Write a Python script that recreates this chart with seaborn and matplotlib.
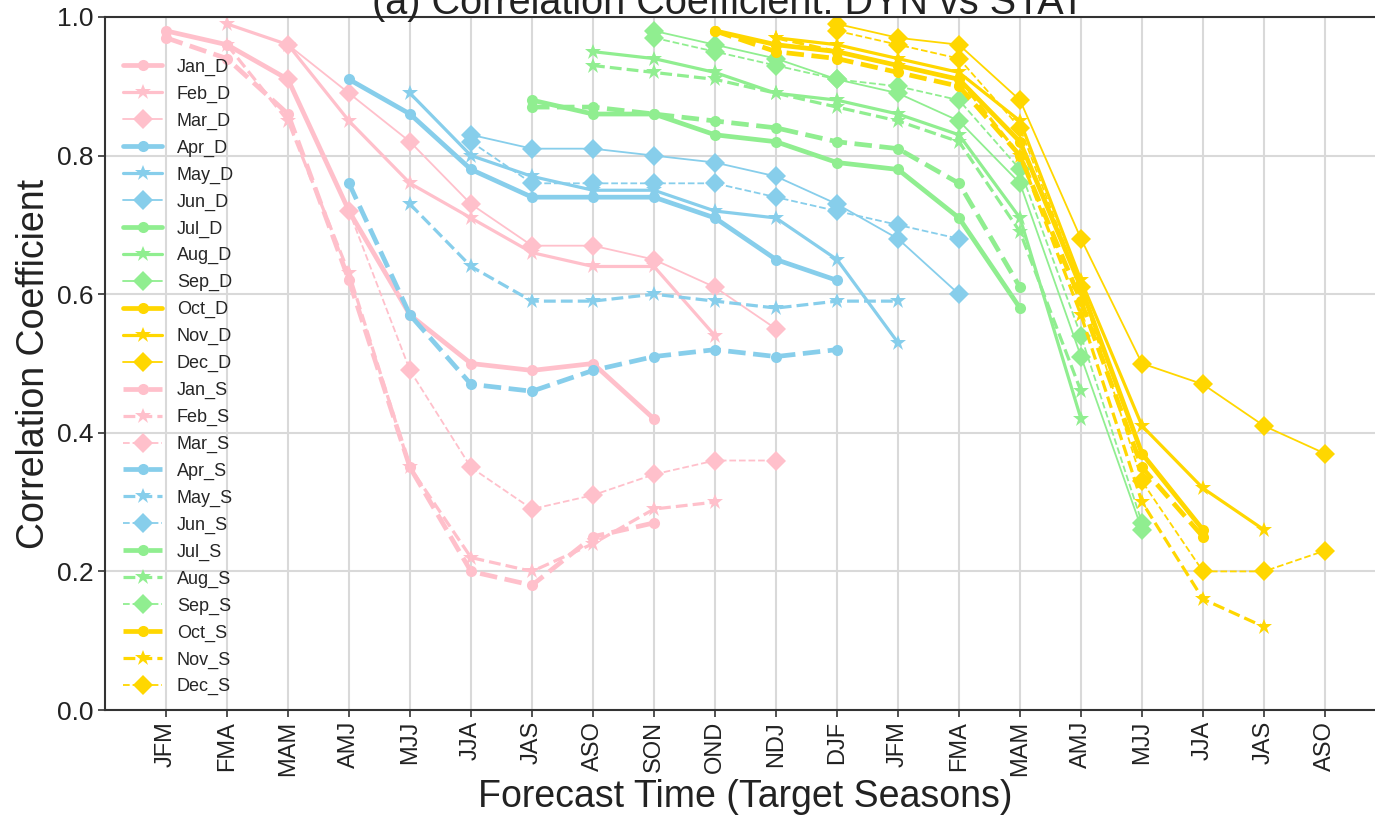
import numpy as np
import pandas as pd
import matplotlib
matplotlib.use("Agg")
import matplotlib.pyplot as plt
import seaborn as sns

# target seasons on the x axis (forecast time)
seasons = ["JFM", "FMA", "MAM", "AMJ", "MJJ", "JJA", "JAS", "ASO", "SON", "OND",
           "NDJ", "DJF", "JFM", "FMA", "MAM", "AMJ", "MJJ", "JJA", "JAS", "ASO"]
months = ["Jan", "Feb", "Mar", "Apr", "May", "Jun", "Jul", "Aug", "Sep", "Oct", "Nov", "Dec"]

# dynamical model (D), 9 leads starting at the initial month's season
jan_d = [0.98, 0.96, 0.91, 0.72, 0.57, 0.50, 0.49, 0.50, 0.42]
feb_d = [0.99, 0.96, 0.85, 0.76, 0.71, 0.66, 0.64, 0.64, 0.54]
mar_d = [0.96, 0.89, 0.82, 0.73, 0.67, 0.67, 0.65, 0.61, 0.55]
apr_d = [0.91, 0.86, 0.78, 0.74, 0.74, 0.74, 0.71, 0.65, 0.62]
may_d = [0.89, 0.80, 0.77, 0.75, 0.75, 0.72, 0.71, 0.65, 0.53]
jun_d = [0.83, 0.81, 0.81, 0.80, 0.79, 0.77, 0.73, 0.68, 0.60]
jul_d = [0.88, 0.86, 0.86, 0.83, 0.82, 0.79, 0.78, 0.71, 0.58]
aug_d = [0.95, 0.94, 0.92, 0.89, 0.88, 0.86, 0.83, 0.71, 0.42]
sep_d = [0.98, 0.96, 0.94, 0.91, 0.89, 0.85, 0.76, 0.51, 0.26]
oct_d = [0.98, 0.96, 0.95, 0.93, 0.91, 0.82, 0.61, 0.37, 0.26]
nov_d = [0.97, 0.96, 0.94, 0.92, 0.85, 0.62, 0.41, 0.32, 0.26]
dec_d = [0.99, 0.97, 0.96, 0.88, 0.68, 0.50, 0.47, 0.41, 0.37]

# statistical model (S)
jan_s = [0.97, 0.94, 0.86, 0.62, 0.35, 0.20, 0.18, 0.25, 0.27]
feb_s = [0.96, 0.85, 0.63, 0.35, 0.22, 0.20, 0.24, 0.29, 0.30]
mar_s = [0.91, 0.72, 0.49, 0.35, 0.29, 0.31, 0.34, 0.36, 0.36]
apr_s = [0.76, 0.57, 0.47, 0.46, 0.49, 0.51, 0.52, 0.51, 0.52]
may_s = [0.73, 0.64, 0.59, 0.59, 0.60, 0.59, 0.58, 0.59, 0.59]
jun_s = [0.82, 0.76, 0.76, 0.76, 0.76, 0.74, 0.72, 0.70, 0.68]
jul_s = [0.87, 0.87, 0.86, 0.85, 0.84, 0.82, 0.81, 0.76, 0.61]
aug_s = [0.93, 0.92, 0.91, 0.89, 0.87, 0.85, 0.82, 0.69, 0.46]
sep_s = [0.97, 0.95, 0.93, 0.91, 0.90, 0.88, 0.78, 0.54, 0.27]
oct_s = [0.98, 0.95, 0.94, 0.92, 0.90, 0.80, 0.59, 0.35, 0.25]
nov_s = [0.97, 0.95, 0.93, 0.91, 0.80, 0.57, 0.30, 0.16, 0.12]
dec_s = [0.98, 0.96, 0.94, 0.84, 0.61, 0.33, 0.20, 0.20, 0.23]

dyn = [jan_d, feb_d, mar_d, apr_d, may_d, jun_d, jul_d, aug_d, sep_d, oct_d, nov_d, dec_d]
stat = [jan_s, feb_s, mar_s, apr_s, may_s, jun_s, jul_s, aug_s, sep_s, oct_s, nov_s, dec_s]

colors = ["pink"] * 3 + ["skyblue"] * 3 + ["lightgreen"] * 3 + ["gold"] * 3
markers = ["o", "*", "D"] * 4
msizes = [8, 12, 10.5] * 4
widths = [3.4, 2.3, 1.3] * 4

sns.set_theme(style="whitegrid")
plt.rcParams["font.family"] = ["Liberation Sans", "DejaVu Sans"]

fig = plt.figure(figsize=(13.75, 8.16), dpi=100)
ax = fig.add_axes([105 / 1375, 106 / 816, 1281 / 1375, 693 / 816])

rows = []
for kind, group in (("D", dyn), ("S", stat)):
    for i, vals in enumerate(group):
        for k, v in enumerate(vals):
            rows.append({"series": f"{months[i]}_{kind}", "month": i, "kind": kind,
                         "x": i + k, "r": v})
df = pd.DataFrame(rows)

for name, sub in df.groupby("series", sort=False):
    i = sub["month"].iloc[0]
    ls = "-" if sub["kind"].iloc[0] == "D" else "--"
    sns.lineplot(data=sub, x="x", y="r", ax=ax, color=colors[i], linestyle=ls,
                 linewidth=widths[i], marker=markers[i], markersize=msizes[i],
                 markeredgewidth=0, label=name, sort=False, estimator=None)

ax.set_xlim(-1, 20)
ax.set_ylim(0, 1.0)
ax.set_xticks(range(len(seasons)))
ax.set_xticklabels(seasons, rotation=90, fontsize=17, color="#222222")
ax.set_yticks(np.arange(0, 1.01, 0.2))
ax.set_yticklabels([f"{t:.1f}" for t in np.arange(0, 1.01, 0.2)], fontsize=19, color="#222222")
ax.tick_params(axis="both", length=5, width=1.2, color="#333333", direction="out",
               bottom=True, left=True, pad=3)
ax.grid(True, color="#d9d9d9", linewidth=1.5)
for side in ("left", "bottom", "top"):
    ax.spines[side].set_color("#333333")
    ax.spines[side].set_linewidth(1.5)
ax.spines["right"].set_visible(False)

ax.set_xlabel("Forecast Time (Target Seasons)", fontsize=27, color="#222222", labelpad=2)
ax.set_ylabel("Correlation Coefficient", fontsize=27, color="#222222", labelpad=4)
ax.set_title("(a) Correlation Coefficient: DYN vs STAT", fontsize=28.5, color="#222222",
             pad=2, x=0.487)

ax.legend(loc="upper left", bbox_to_anchor=(0.004, 0.958), frameon=False, fontsize=13,
          labelspacing=0.54, handlelength=2.2, handletextpad=0.8, borderaxespad=0.3)

fig.savefig("out.png", dpi=100)
